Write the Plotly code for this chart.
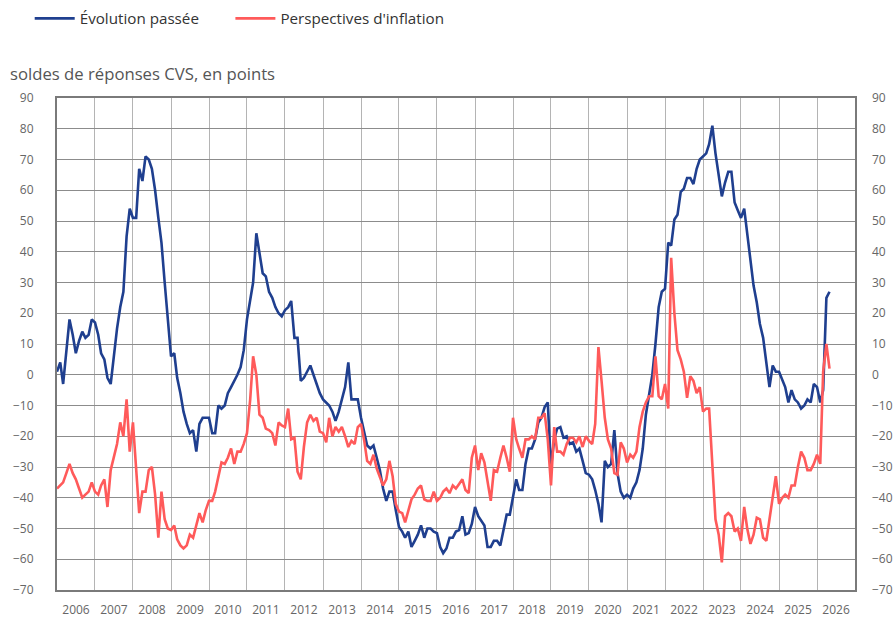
import pandas as pd
import plotly.graph_objects as go

# Monthly values, January 2006 onwards
evolution_passee = [
    1, 4, -3, 8, 18, 13, 7, 11, 14, 12, 13, 18,                      # 2006
    17, 13, 7, 5, -1, -3, 7, 15, 22, 27, 45, 54,                     # 2007
    51, 51, 67, 63, 71, 70, 67, 60, 51, 43, 30, 17,                  # 2008
    6, 7, -1, -6, -12, -16, -19, -18, -25, -16, -14, -14,            # 2009
    -14, -19, -19, -10, -11, -10, -6, -4, -2, 0, 2.5, 8,             # 2010
    18, 25, 30, 46, 40, 33, 32, 27, 25, 22, 20, 19,                  # 2011
    21, 22, 24, 12, 12, -2, -1, 1, 3, 0, -3, -6,                     # 2012
    -8, -9, -10, -12, -15, -12, -8, -4, 4, -8, -8, -8,               # 2013
    -14, -19, -23, -24, -23, -27, -31, -37, -41, -38, -38, -44,      # 2014
    -49.5, -51, -53, -51, -56, -54, -52, -49, -53, -50, -50, -51,    # 2015
    -51.5, -56, -58, -56.5, -53, -53, -51, -50.5, -46, -52, -51.5, -48.5,  # 2016
    -43, -46, -47.5, -49, -56, -56, -54, -54, -55.5, -50, -45.5, -45.5,  # 2017
    -40, -34, -37.5, -37.5, -29, -24, -24, -21, -15.5, -14, -10.5, -9,   # 2018
    -30, -21, -17.5, -17, -20.5, -20, -22.5, -22, -25, -24, -28, -32,  # 2019
    -32.5, -34, -37.5, -42, -48, -28, -30, -29, -18, -32, -38, -40,  # 2020
    -39, -40, -37, -35, -31, -24, -13, -6, 0, 10, 22, 27,            # 2021
    28, 43, 42, 50.5, 52, 59.5, 60.5, 64, 64, 62, 67, 70,            # 2022
    71, 72, 75, 81, 72, 65, 58, 62.5, 66, 66, 56, 53.5,              # 2023
    51, 54, 46, 39, 29, 23.5, 16.5, 12, 3, -4, 3, 1,                 # 2024
    1, -2, -4, -9, -5, -8, -9, -11, -10, -8, -9, -3,                 # 2025
    -4, -9, -5, 25, 27,                                              # 2026
]

perspectives_inflation = [
    -37, -36, -35, -32, -29, -32, -34, -37, -40, -39, -38, -35,      # 2006
    -38, -39, -36, -34, -43, -31, -27, -22.5, -15.5, -20, -8, -25,   # 2007
    -15.5, -31, -45, -38, -38, -31, -30, -39, -53, -38, -47, -50,    # 2008
    -50.5, -49, -53.5, -55.5, -56.5, -55.5, -52, -53, -48.5, -45, -48, -44,  # 2009
    -41, -41, -38, -33, -28.5, -29, -27, -24, -29, -25, -25, -22.5,  # 2010
    -19, -8, 6, 0, -13, -14, -17.5, -18, -19, -23, -15.5, -16.5,     # 2011
    -17, -11, -21, -20.5, -31.5, -34, -23.5, -15.5, -13, -15, -14, -18.5,  # 2012
    -19, -22, -14, -20, -17, -18.5, -17, -20, -23.5, -21.5, -22.5, -17,  # 2013
    -16, -21.5, -28, -29, -26, -30.5, -33, -36, -34, -28, -33, -42,  # 2014
    -44.5, -45, -48, -44.5, -40.5, -39, -37, -36, -40.5, -41, -41, -38,  # 2015
    -41, -40, -38, -37, -38.5, -36, -37, -35.5, -34, -37.5, -38.5, -27,  # 2016
    -23, -31, -25.5, -28.5, -34, -41, -31, -31.5, -27, -23, -27, -31.5,  # 2017
    -14, -21, -24, -27, -21, -21, -20, -21, -14, -14, -12.5, -21,    # 2018
    -36, -17, -25, -25, -26, -22.5, -20.5, -20.5, -22, -20, -23.5, -20,  # 2019
    -21.5, -22.5, -16, 9, -2, -14, -21, -24, -32, -32.5, -22, -24,   # 2020
    -28.5, -26, -27, -25, -17, -12, -9, -7, -7, 6, -7, -8,           # 2021
    -3, -11, 38, 20, 8, 5, 1, -7.5, -0.5, -2, -6, -4,                # 2022
    -12, -11, -11, -30, -47, -52, -61, -46, -45, -46, -51, -50,      # 2023
    -54, -43, -50, -55, -52, -46.5, -47, -53, -54, -47, -40, -33,    # 2024
    -42, -40, -39, -40, -36, -36, -30, -25, -27, -31, -31, -29,      # 2025
    -26, -29, 1, 10, 2,                                              # 2026
]

series_names = ["Évolution passée", "Perspectives d'inflation"]
y_title = "soldes de réponses CVS, en points"
y_ticks = list(range(-70, 91, 10))

dates = pd.date_range("2006-01-01", periods=len(evolution_passee), freq="MS")

BLUE = "#1f3f8f"
RED = "#ff5a5a"
FONT = "Open Sans"
TICK_COLOR = "#666666"

W, H = 893, 625
L, R, T, B = 57, 38, 98, 35
PW, PH = W - L - R, H - T - B

fig = go.Figure()
fig.add_trace(go.Scatter(x=dates, y=evolution_passee, mode="lines",
                         name=series_names[0], legend="legend",
                         line=dict(color=BLUE, width=2.6)))
fig.add_trace(go.Scatter(x=dates, y=perspectives_inflation, mode="lines",
                         name=series_names[1], legend="legend2",
                         line=dict(color=RED, width=2.6)))
# invisible trace so that the right-hand axis is drawn
fig.add_trace(go.Scatter(x=dates, y=evolution_passee, mode="lines", yaxis="y2",
                         showlegend=False, hoverinfo="skip",
                         line=dict(color="rgba(0,0,0,0)", width=0)))

legend_common = dict(orientation="h", xref="container", yref="container",
                     y=1 - 2 / H, xanchor="left", yanchor="top",
                     itemwidth=40, bgcolor="rgba(0,0,0,0)",
                     font=dict(size=15.2, color="#333333", family=FONT))

fig.update_layout(
    width=W, height=H,
    margin=dict(l=L, r=R, t=T, b=B, autoexpand=False),
    paper_bgcolor="white", plot_bgcolor="white",
    font=dict(family=FONT, color=TICK_COLOR, size=12),
    showlegend=True,
    legend=dict(x=29.7 / W, **legend_common),
    legend2=dict(x=230.4 / W, **legend_common),
    xaxis=dict(
        type="date", range=["2006-01-01", "2027-01-01"],
        tick0="2006-01-01", dtick="M12", tickformat="%Y",
        ticklabelmode="period", ticks="", ticklabelstandoff=8,
        showgrid=True, gridcolor="#b4b4b4", gridwidth=1,
        showline=True, linecolor="#7a7a7a", linewidth=2, mirror=True,
        tickfont=dict(size=12, color=TICK_COLOR),
        zeroline=False,
    ),
    yaxis=dict(
        range=[-70, 90], tickvals=y_ticks, ticks="", ticklabelstandoff=19,
        showgrid=True, gridcolor="#8c8c8c", gridwidth=1,
        showline=True, linecolor="#7a7a7a", linewidth=2, mirror=True,
        zeroline=False, tickfont=dict(size=12, color=TICK_COLOR),
    ),
    yaxis2=dict(
        range=[-70, 90], tickvals=y_ticks, ticks="", ticklabelstandoff=16,
        overlaying="y", side="right", showgrid=False, zeroline=False,
        showline=False, tickfont=dict(size=12, color=TICK_COLOR),
    ),
    annotations=[dict(
        text=y_title, xref="paper", yref="paper",
        x=(8 - L) / PW, y=(H - B - 74) / PH,
        xanchor="left", yanchor="middle", showarrow=False,
        font=dict(size=16.7, color="#555555", family=FONT),
    )],
)

fig.write_html("out.html", config={"displayModeBar": False},
               post_script="document.body.style.margin='0px';")
